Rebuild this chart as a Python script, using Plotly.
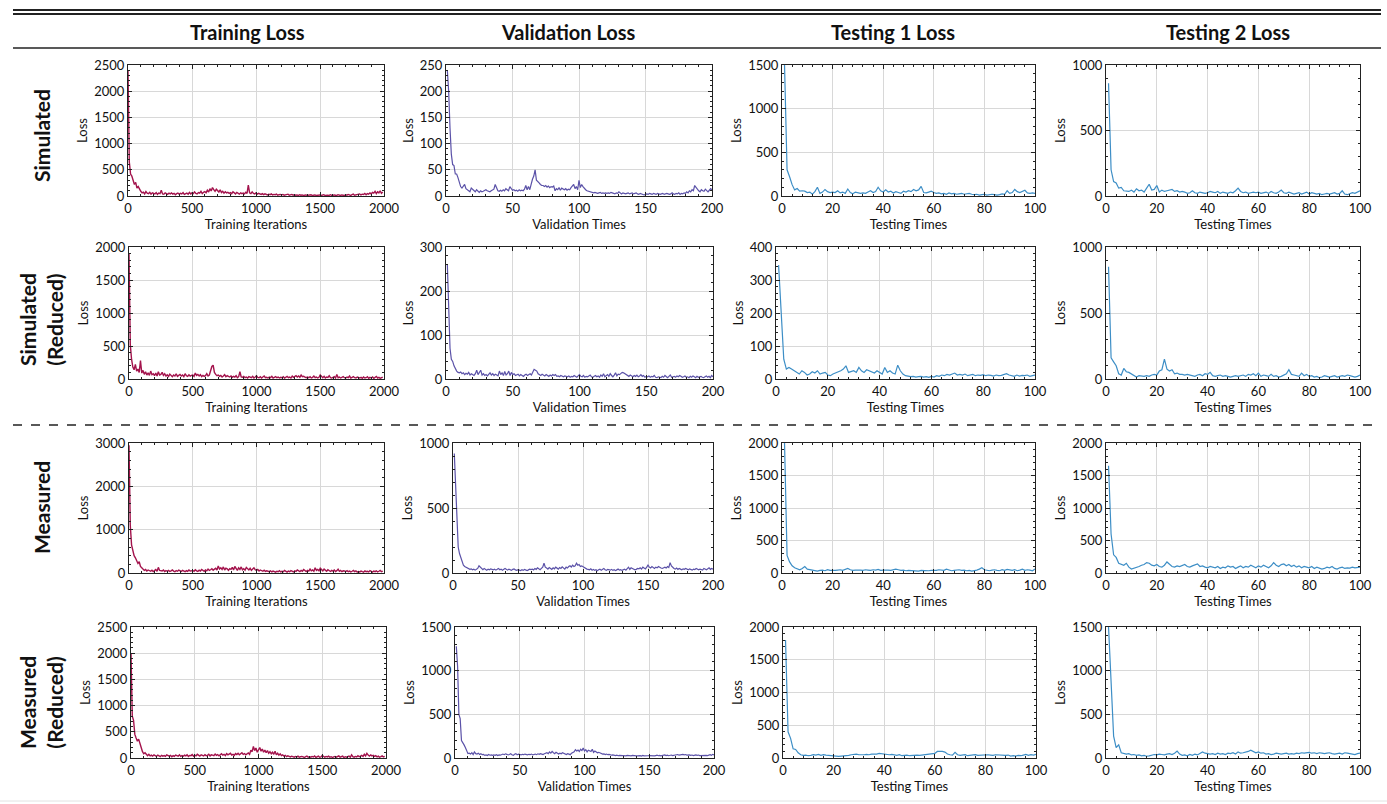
import plotly.graph_objects as go

W, H = 1387, 804

# ---------------- data ----------------
col_titles = ["Training Loss", "Validation Loss", "Testing 1 Loss", "Testing 2 Loss"]
row_titles = ["Simulated", "Simulated<br>(Reduced)", "Measured", "Measured<br>(Reduced)"]
x_titles = ["Training Iterations", "Validation Times", "Testing Times", "Testing Times"]

sim_train = [2400,650,420,380,300,220,260,150,180,120,
             90,60,75,40,85,55,45,70,35,60,
             50,40,65,30,55,45,110,40,35,60,
             45,30,55,40,60,35,50,25,45,55,
             35,50,40,65,30,45,55,35,70,40,
             60,45,80,50,40,65,55,90,45,70,
             85,60,110,75,140,95,160,120,90,130,
             100,75,120,65,90,55,80,60,70,50,
             65,45,80,55,40,70,50,35,60,45,
             55,40,70,50,210,60,45,80,50,40,
             60,35,50,40,30,45,25,40,30,20,
             35,25,40,20,30,25,35,15,25,30,
             20,30,15,25,20,35,15,20,30,15,
             25,15,20,10,25,15,20,10,15,20,
             10,20,15,25,10,15,20,10,15,10,
             20,10,15,25,10,20,15,10,25,15,
             10,20,15,10,25,15,10,20,15,10,
             25,15,30,20,10,25,35,15,20,30,
             25,40,20,35,30,50,25,45,35,60,
             40,70,55,90,45,80,60,100,50,75]

simr_train = [1900,520,300,180,140,220,120,150,100,280,
              90,130,70,110,60,95,55,120,65,80,
              50,90,45,110,60,70,100,55,80,45,
              65,40,75,50,35,60,45,80,40,55,
              70,45,60,35,80,50,40,65,45,55,
              60,40,90,55,70,45,65,35,55,40,
              50,80,45,60,120,190,210,100,70,50,
              60,40,55,30,45,65,35,50,40,30,
              45,25,40,30,50,20,35,110,30,25,
              40,20,30,15,35,25,20,40,15,30,
              50,25,20,35,15,30,45,20,25,15,
              30,20,40,15,25,35,20,30,15,25,
              20,35,15,25,40,20,30,15,45,25,
              35,50,30,45,25,60,35,40,30,20,
              30,20,35,15,25,45,20,30,15,25,
              60,30,20,40,15,30,25,50,20,15,
              25,35,15,70,20,30,15,25,35,20,
              15,30,20,45,15,25,35,20,15,30,
              20,15,25,10,30,15,20,35,10,25,
              15,30,10,20,40,15,25,10,20,30]

mea_train = [2950,1100,650,520,400,350,300,220,260,150,
             120,90,60,80,45,70,50,40,65,35,
             55,80,40,130,60,50,45,70,35,55,
             40,60,35,50,70,45,30,55,40,65,
             50,35,60,45,30,55,40,70,45,50,
             60,40,75,50,35,65,45,80,55,40,
             70,50,90,60,75,100,65,85,110,70,
             160,90,120,80,140,70,110,95,60,100,
             85,130,70,150,90,60,120,80,140,75,
             100,65,130,85,70,110,60,90,120,75,
             60,80,45,70,55,40,65,35,50,45,
             30,50,25,45,35,20,40,30,55,25,
             40,30,60,35,20,45,30,55,40,25,
             50,35,70,45,30,60,40,80,50,35,
             60,45,90,50,70,40,120,60,80,50,
             110,70,50,90,60,40,75,55,35,60,
             45,70,35,55,90,40,60,30,50,45,
             35,55,30,45,25,40,60,30,50,20,
             35,25,45,30,20,50,30,40,25,55,
             35,20,45,30,50,25,40,60,30,45]

mear_train = [2000,800,720,450,380,320,360,250,200,120,
              80,100,60,45,70,40,55,35,60,45,
              30,55,40,25,50,35,45,30,60,40,
              35,50,25,45,30,55,40,35,60,30,
              45,35,55,40,60,30,50,45,65,35,
              55,40,70,45,35,60,50,40,65,45,
              50,70,40,60,55,45,75,50,65,40,
              60,80,55,70,45,85,60,75,90,55,
              70,50,85,65,90,60,75,100,70,85,
              60,80,95,70,150,120,220,140,190,110,
              160,200,130,170,110,150,100,140,90,120,
              80,110,70,130,60,90,55,80,45,60,
              35,50,25,40,30,20,35,25,15,30,
              20,35,15,25,30,20,10,25,35,15,
              25,15,30,20,40,10,25,35,15,20,
              50,25,15,30,20,35,15,25,10,20,
              30,15,25,40,15,20,35,10,25,15,
              20,35,15,60,25,15,30,20,45,25,
              35,50,30,70,40,90,55,35,60,40,
              50,30,45,20,35,15,25,40,20,30]

sim_val = [240,200,130,80,60,58,42,42,35,25,
           18,15,20,22,14,12,10,8,15,12,
           10,8,12,9,7,10,8,9,11,12,
           10,9,8,10,11,13,22,16,10,9,
           11,9,12,10,14,12,10,18,13,11,
           12,10,11,9,12,10,11,10,13,20,
           12,18,12,25,32,38,50,30,28,25,
           22,20,20,18,20,17,19,16,18,17,
           19,10,14,12,16,11,15,13,12,14,
           11,13,12,16,20,22,14,18,12,30,
           16,22,18,14,12,10,9,8,7,6,
           6,7,6,5,6,7,5,6,5,6,
           5,6,5,7,6,5,4,6,5,8,
           5,4,6,5,4,5,6,4,5,6,
           4,5,6,4,3,5,4,3,2,3,
           4,3,5,4,3,5,4,3,5,4,
           3,4,5,3,4,5,4,3,4,6,
           4,3,5,4,6,3,5,4,6,5,
           8,6,10,8,12,10,20,16,12,10,
           8,12,10,9,13,10,8,11,14,12]

simr_val = [260,130,70,45,40,30,22,18,15,14,
            16,12,14,10,13,11,15,9,12,10,
            8,12,20,10,14,20,9,12,8,10,
            7,10,14,9,12,8,11,9,7,18,
            10,14,8,17,9,12,18,8,15,10,
            12,8,9,11,7,10,8,6,9,11,
            8,10,12,9,14,22,20,18,12,10,
            8,11,9,7,10,8,6,9,7,10,
            8,10,6,7,5,8,6,5,7,6,
            5,7,4,6,5,8,6,4,7,10,
            6,5,8,4,6,5,7,9,5,4,
            6,8,5,7,4,9,6,12,5,7,
            10,6,12,8,5,9,14,7,11,10,
            12,15,14,12,10,8,6,9,7,5,
            8,6,9,5,7,10,6,8,4,6,
            5,7,4,6,5,8,4,3,5,4,
            3,6,4,8,5,3,6,9,4,5,
            6,4,7,5,8,6,4,5,7,4,
            5,3,6,4,7,5,3,6,4,5,
            6,4,3,5,7,4,6,3,8,5]

mea_val = [920,700,400,200,150,120,80,60,50,45,
           40,35,28,32,25,30,22,28,35,55,
           45,30,25,35,28,22,30,25,32,28,
           25,30,22,28,35,25,30,22,27,35,
           28,22,30,25,20,28,32,24,20,26,
           22,18,25,20,28,22,18,24,30,26,
           30,24,35,28,40,32,25,35,45,75,
           45,38,30,42,35,28,40,32,45,38,
           30,42,35,48,40,30,45,38,50,55,
           45,60,50,55,75,60,65,50,55,48,
           42,35,30,28,25,32,22,28,20,25,
           18,25,30,22,28,35,25,20,28,24,
           22,28,20,25,18,24,30,22,26,20,
           25,30,22,35,45,28,40,35,30,25,
           28,35,32,40,30,45,38,32,45,60,
           45,38,50,42,35,45,40,50,42,38,
           35,40,45,38,50,42,80,55,40,35,
           30,38,28,35,30,25,32,28,35,30,
           25,32,28,22,30,26,35,28,24,30,
           28,22,35,30,25,32,40,28,35,30]

mear_val = [1280,1050,500,450,200,180,150,120,80,50,
            55,45,60,40,70,50,45,55,40,48,
            38,42,30,35,28,40,32,36,30,35,
            30,38,28,35,32,40,45,38,48,42,
            35,40,48,38,30,42,50,38,45,40,
            35,42,38,45,40,35,42,38,45,35,
            40,45,38,48,42,50,45,40,48,55,
            60,50,70,55,75,60,50,65,55,45,
            55,48,60,50,45,40,50,45,38,55,
            60,70,95,80,90,75,100,85,115,80,
            95,70,90,80,75,100,65,80,70,60,
            65,55,50,45,48,40,45,38,42,35,
            32,35,30,28,32,26,30,28,25,30,
            28,25,30,26,28,24,30,26,28,25,
            24,28,26,22,30,25,28,24,26,28,
            25,30,26,24,28,32,26,30,25,28,
            30,35,28,32,26,30,34,28,32,30,
            35,40,32,38,45,42,36,40,34,38,
            35,30,34,28,32,36,30,34,28,30,
            32,28,35,30,28,34,38,30,42,35]

sim_test1 = [1500,300,220,130,70,85,55,60,55,40,
             45,20,50,100,30,45,75,50,40,45,
             40,60,35,45,30,80,40,25,45,40,
             30,35,30,45,60,40,50,100,60,45,
             70,45,55,35,50,40,30,55,45,60,
             50,75,60,70,110,40,35,45,55,40,
             30,35,25,30,20,35,25,30,20,25,
             30,20,25,30,20,15,20,10,15,20,
             10,15,20,15,10,15,25,20,60,30,
             40,75,50,40,55,65,35,30,35,30]

sim_test2 = [860,200,110,100,60,65,40,40,35,45,
             30,55,40,45,30,60,90,45,50,80,
             30,45,35,40,45,50,35,40,30,35,
             30,20,25,40,25,20,30,25,20,25,
             35,30,25,35,20,30,25,20,30,25,
             40,60,35,25,30,20,25,30,25,30,
             20,25,30,20,35,25,20,30,45,25,
             20,30,25,15,20,25,15,20,30,15,
             25,20,15,20,10,15,20,15,20,25,
             15,20,40,15,10,20,25,20,30,40]

simr_test1 = [345,200,60,30,35,30,25,20,15,25,
              20,12,15,22,18,25,15,18,20,12,
              10,15,18,20,25,30,40,20,22,25,
              20,35,25,20,28,25,22,18,25,20,
              15,35,20,25,18,15,42,25,15,10,
              8,7,8,6,7,8,6,7,5,8,
              6,10,8,12,10,14,12,15,18,12,
              14,12,15,10,12,14,10,12,11,13,
              10,12,11,9,12,10,11,13,16,12,
              10,8,12,9,11,10,12,8,10,12]

simr_test2 = [850,160,130,100,40,30,80,55,50,40,
              30,15,25,20,20,25,20,30,35,30,
              60,70,150,75,60,70,40,45,35,35,
              30,35,30,25,20,30,35,25,40,35,
              50,25,20,25,30,20,25,20,15,20,
              25,20,25,30,20,35,30,40,25,45,
              20,30,25,20,35,20,25,15,20,30,
              40,70,35,30,25,20,45,25,35,20,
              25,15,20,10,15,25,20,15,20,25,
              15,20,25,20,30,25,20,15,20,30]

mea_test1 = [2000,270,170,110,80,60,50,70,100,60,
             50,40,35,30,40,45,35,50,40,35,
             40,45,50,40,60,70,50,40,45,50,
             45,40,50,45,40,50,45,55,40,45,
             50,45,40,45,60,50,40,45,35,40,
             35,40,35,30,40,35,30,35,40,35,
             40,50,45,40,60,45,35,40,45,50,
             40,45,35,40,30,35,45,60,80,50,
             40,35,45,50,40,35,50,40,55,45,
             40,50,35,45,60,40,50,45,35,60]

mea_test2 = [1650,600,280,240,150,140,120,150,90,60,
             70,80,100,120,130,160,150,120,110,130,
             100,90,120,170,130,100,90,110,100,120,
             130,100,90,110,120,140,100,110,90,80,
             100,90,80,100,70,90,80,110,90,100,
             70,90,110,80,100,90,120,100,80,110,
             90,120,100,80,110,160,120,100,130,140,
             110,130,100,120,90,110,80,100,90,80,
             100,70,90,80,60,70,90,80,100,70,
             60,80,90,70,80,75,90,80,85,90]

mear_test1 = [1800,400,300,140,130,80,50,40,45,35,
              40,50,45,55,40,50,45,40,45,35,
              30,25,30,30,35,40,50,55,60,50,
              45,50,55,50,60,55,60,70,65,55,
              60,50,55,45,40,50,35,40,45,35,
              40,35,45,40,45,50,45,50,55,70,
              100,105,100,90,60,50,45,85,50,40,
              45,50,35,40,45,50,40,45,50,55,
              50,45,40,50,45,40,35,40,45,30,
              35,30,40,35,45,55,40,50,45,55]

mear_test2 = [1500,900,250,120,150,60,55,45,50,35,
              40,30,35,25,30,20,25,30,40,35,
              45,40,35,45,50,40,55,80,45,30,
              35,25,40,30,45,35,50,70,55,50,
              45,50,40,55,45,50,40,55,50,60,
              45,70,55,60,65,75,90,70,60,70,
              55,60,45,50,40,45,55,50,45,50,
              55,45,50,45,55,50,60,55,60,65,
              55,60,50,60,55,50,55,60,50,45,
              50,55,45,60,55,50,45,40,50,55]

series = [
    [sim_train, sim_val, sim_test1, sim_test2],
    [simr_train, simr_val, simr_test1, simr_test2],
    [mea_train, mea_val, mea_test1, mea_test2],
    [mear_train, mear_val, mear_test1, mear_test2],
]

# y axis (max, major step) per panel
y_axes = [
    [(2500, 500), (250, 50), (1500, 500), (1000, 500)],
    [(2000, 500), (300, 100), (400, 100), (1000, 500)],
    [(3000, 1000), (1000, 500), (2000, 500), (2000, 500)],
    [(2500, 500), (1500, 500), (2000, 500), (1500, 500)],
]
# x axis (max, major step) per column
x_axes = [(2000, 500), (200, 50), (100, 20), (100, 20)]

# ---------------- style / layout ----------------
colors = ["#A3134C", "#5B52A8", "#3D8EC6", "#3D8EC6"]
FONT = "Lato, Noto Sans, DejaVu Sans, sans-serif"

col_px = {
    (0, 0): (128, 384), (0, 1): (446, 712), (0, 2): (782, 1035), (0, 3): (1106, 1360),
    (1, 0): (129, 384), (1, 1): (446, 713), (1, 2): (776, 1035), (1, 3): (1106, 1360),
    (2, 0): (129, 384), (2, 1): (453, 713), (2, 2): (782, 1035), (2, 3): (1106, 1360),
    (3, 0): (131, 386), (3, 1): (455, 714), (3, 2): (783, 1036), (3, 3): (1106, 1360),
}
row_px = [(65, 196), (247, 379), (443, 573), (627, 758)]

fig = go.Figure()
layout_axes = {}

for r in range(4):
    for c in range(4):
        k = r * 4 + c + 1
        xn = "x" if k == 1 else f"x{k}"
        yn = "y" if k == 1 else f"y{k}"
        ydata = series[r][c]
        if c == 0:
            xdata = [10 * i for i in range(len(ydata))]
        else:
            xdata = list(range(1, len(ydata) + 1))
        fig.add_trace(go.Scatter(
            x=xdata, y=ydata, mode="lines",
            line=dict(color=colors[c], width=1.2 if c else 1.4),
            xaxis=xn, yaxis=yn, showlegend=False, hoverinfo="skip"))

        l, rr = col_px[(r, c)]
        t, b = row_px[r]
        xmax, xstep = x_axes[c]
        ymax, ystep = y_axes[r][c]
        common = dict(
            showline=True, linecolor="#222", linewidth=1, mirror="ticks",
            ticks="inside", ticklen=4, tickwidth=1, tickcolor="#222",
            showgrid=True, gridcolor="#D8D8D8", gridwidth=1, zeroline=False,
            automargin=False,
            tickfont=dict(family=FONT, size=13, color="#111"),
        )
        layout_axes["xaxis" if k == 1 else f"xaxis{k}"] = dict(
            common, domain=[l / W, rr / W], anchor=yn,
            range=[0, xmax], tick0=0, dtick=xstep,
            minor=dict(dtick=xstep / 5, ticks="inside", ticklen=2, tickcolor="#222", showgrid=False),
            title=dict(text=x_titles[c], font=dict(family=FONT, size=13, color="#111"), standoff=1),
        )
        layout_axes["yaxis" if k == 1 else f"yaxis{k}"] = dict(
            common, domain=[1 - b / H, 1 - t / H], anchor=xn,
            range=[0, ymax], tick0=0, dtick=ystep,
            minor=dict(dtick=ystep / 5, ticks="inside", ticklen=2, tickcolor="#222", showgrid=False),
            title=dict(text="Loss", font=dict(family=FONT, size=13, color="#111"), standoff=3),
        )

annotations = []
header_x = [247, 568, 893, 1228]
for c, txt in enumerate(col_titles):
    annotations.append(dict(
        text=f"<b>{txt}</b>", x=header_x[c] / W, y=1 - 32 / H, xref="paper", yref="paper",
        showarrow=False, xanchor="center", yanchor="middle",
        font=dict(family=FONT, size=20, color="#111")))

row_label_y = [136, 320, 508, 703]
for r, txt in enumerate(row_titles):
    annotations.append(dict(
        text=f"<b>{txt}</b>", x=41 / W, y=1 - row_label_y[r] / H, xref="paper", yref="paper",
        showarrow=False, xanchor="center", yanchor="middle", textangle=-90,
        font=dict(family=FONT, size=21, color="#111")))

def hline(ypx, width=1.5, color="#222", dash="solid", x0=13, x1=1381):
    return dict(type="line", xref="paper", yref="paper",
                x0=x0 / W, x1=x1 / W, y0=1 - ypx / H, y1=1 - ypx / H,
                line=dict(color=color, width=width, dash=dash))

shapes = [
    hline(10, 2), hline(14, 2), hline(48, 1.5),
    hline(425, 1.5, dash="dash"),
    hline(801, 1, color="#E2E2E2", x0=0, x1=W),
]

fig.update_layout(
    width=W, height=H, margin=dict(l=0, r=0, t=0, b=0, pad=0, autoexpand=False),
    paper_bgcolor="white", plot_bgcolor="white",
    annotations=annotations, shapes=shapes,
    font=dict(family=FONT, color="#111"),
    **layout_axes,
)

fig.write_html(
    "out.html",
    config={"displayModeBar": False},
    post_script="document.body.style.margin='0';document.body.style.overflow='hidden';"
                "document.documentElement.style.overflow='hidden';",
)
